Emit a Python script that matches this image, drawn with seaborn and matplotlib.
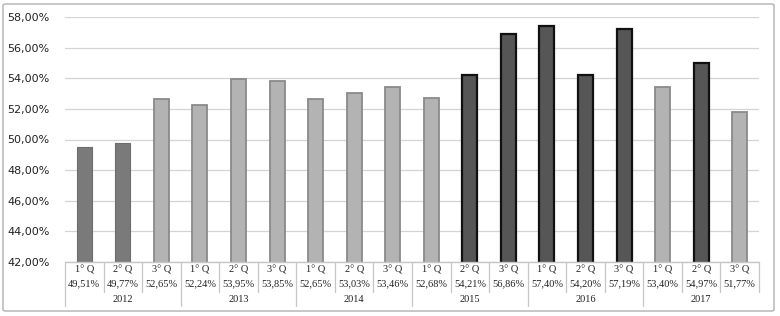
import matplotlib
matplotlib.use("Agg")
import matplotlib.pyplot as plt
import matplotlib.transforms as mtransforms
from matplotlib.patches import FancyBboxPatch
from matplotlib.ticker import FuncFormatter
import seaborn as sns
import pandas as pd

years = ["2012", "2013", "2014", "2015", "2016", "2017"]
quarters = ["1° Q", "2° Q", "3° Q"]
values = [49.51, 49.77, 52.65, 52.24, 53.95, 53.85, 52.65, 53.03, 53.46,
          52.68, 54.21, 56.86, 57.40, 54.20, 57.19, 53.40, 54.97, 51.77]
groups = ["mid", "mid", "light", "light", "light", "light", "light", "light", "light",
          "light", "dark", "dark", "dark", "dark", "dark", "light", "dark", "light"]
value_labels = ["49,51%", "49,77%", "52,65%", "52,24%", "53,95%", "53,85%", "52,65%",
                "53,03%", "53,46%", "52,68%", "54,21%", "56,86%", "57,40%", "54,20%",
                "57,19%", "53,40%", "54,97%", "51,77%"]

fills = {"mid": "#7a7a7a", "light": "#b3b3b3", "dark": "#565656"}
edges = {"mid": "#6c6c6c", "light": "#8a8a8a", "dark": "#111111"}
edge_w = {"mid": 0.8, "light": 1.3, "dark": 1.6}

cats = [f"{y}-{q}" for y in years for q in quarters]
df = pd.DataFrame({"cat": cats, "value": values, "grp": groups})

sns.set_style("white")
fig = plt.figure(figsize=(7.8, 3.16), dpi=100)
W, H = 780, 316
ax_left, ax_right, ax_top, ax_bot = 65, 759, 17, 262
ax = fig.add_axes([ax_left / W, 1 - ax_bot / H, (ax_right - ax_left) / W, (ax_bot - ax_top) / H])

sns.barplot(data=df, x="cat", y="value", hue="grp", palette=fills, dodge=False,
            width=0.39, legend=False, ax=ax, order=cats, hue_order=["mid", "light", "dark"])

for patch in ax.patches:
    if patch.get_height() == 0:
        continue
    cx = patch.get_x() + patch.get_width() / 2
    i = int(round(cx))
    g = groups[i]
    patch.set_edgecolor(edges[g])
    patch.set_linewidth(edge_w[g])

ax.set_ylim(42, 58)
ax.set_xlim(-0.5, len(cats) - 0.5)
ax.set_yticks([42, 44, 46, 48, 50, 52, 54, 56, 58])
ax.yaxis.set_major_formatter(FuncFormatter(lambda v, p: f"{v:.2f}".replace(".", ",") + "%"))
ax.tick_params(axis="y", length=0, pad=11, labelsize=8, labelcolor="#222222")
ax.set_xticks([])
ax.set_xlabel("")
ax.set_ylabel("")
ax.grid(axis="y", color="#d4d4d4", linewidth=0.9)
ax.set_axisbelow(True)
for s in ax.spines.values():
    s.set_visible(False)

tr = mtransforms.blended_transform_factory(ax.transData, fig.transFigure)
def fy(py):
    return 1 - py / H

lc = "#c6c6c6"
ax.plot([-0.5, len(cats) - 0.5], [fy(262), fy(262)], transform=tr, color=lc, lw=1.0, clip_on=False)
for k in range(len(cats) + 1):
    x = k - 0.5
    bottom = 306 if (k % 3 == 0 and k < len(cats)) else 292
    ax.plot([x, x], [fy(262), fy(bottom)], transform=tr, color=lc, lw=0.9, clip_on=False)

serif = ["Liberation Serif", "DejaVu Serif"]
for i, lab in enumerate(value_labels):
    ax.text(i, fy(270), quarters[i % 3], transform=tr, ha="center", va="center",
            fontsize=7.5, family=serif, color="#222222")
    ax.text(i, fy(284), lab, transform=tr, ha="center", va="center",
            fontsize=7.5, family=serif, color="#222222")
for j, y in enumerate(years):
    ax.text(j * 3 + 1, fy(299), y, transform=tr, ha="center", va="center",
            fontsize=7.5, family=serif, color="#222222")

border = FancyBboxPatch((3 / W, 1 - 311 / H), 771 / W, 307 / H,
                        boxstyle="round,pad=0,rounding_size=0.004",
                        transform=fig.transFigure, facecolor="none",
                        edgecolor="#bdbdbd", linewidth=1.2)
fig.patches.append(border)

fig.savefig("out.png", dpi=100)
